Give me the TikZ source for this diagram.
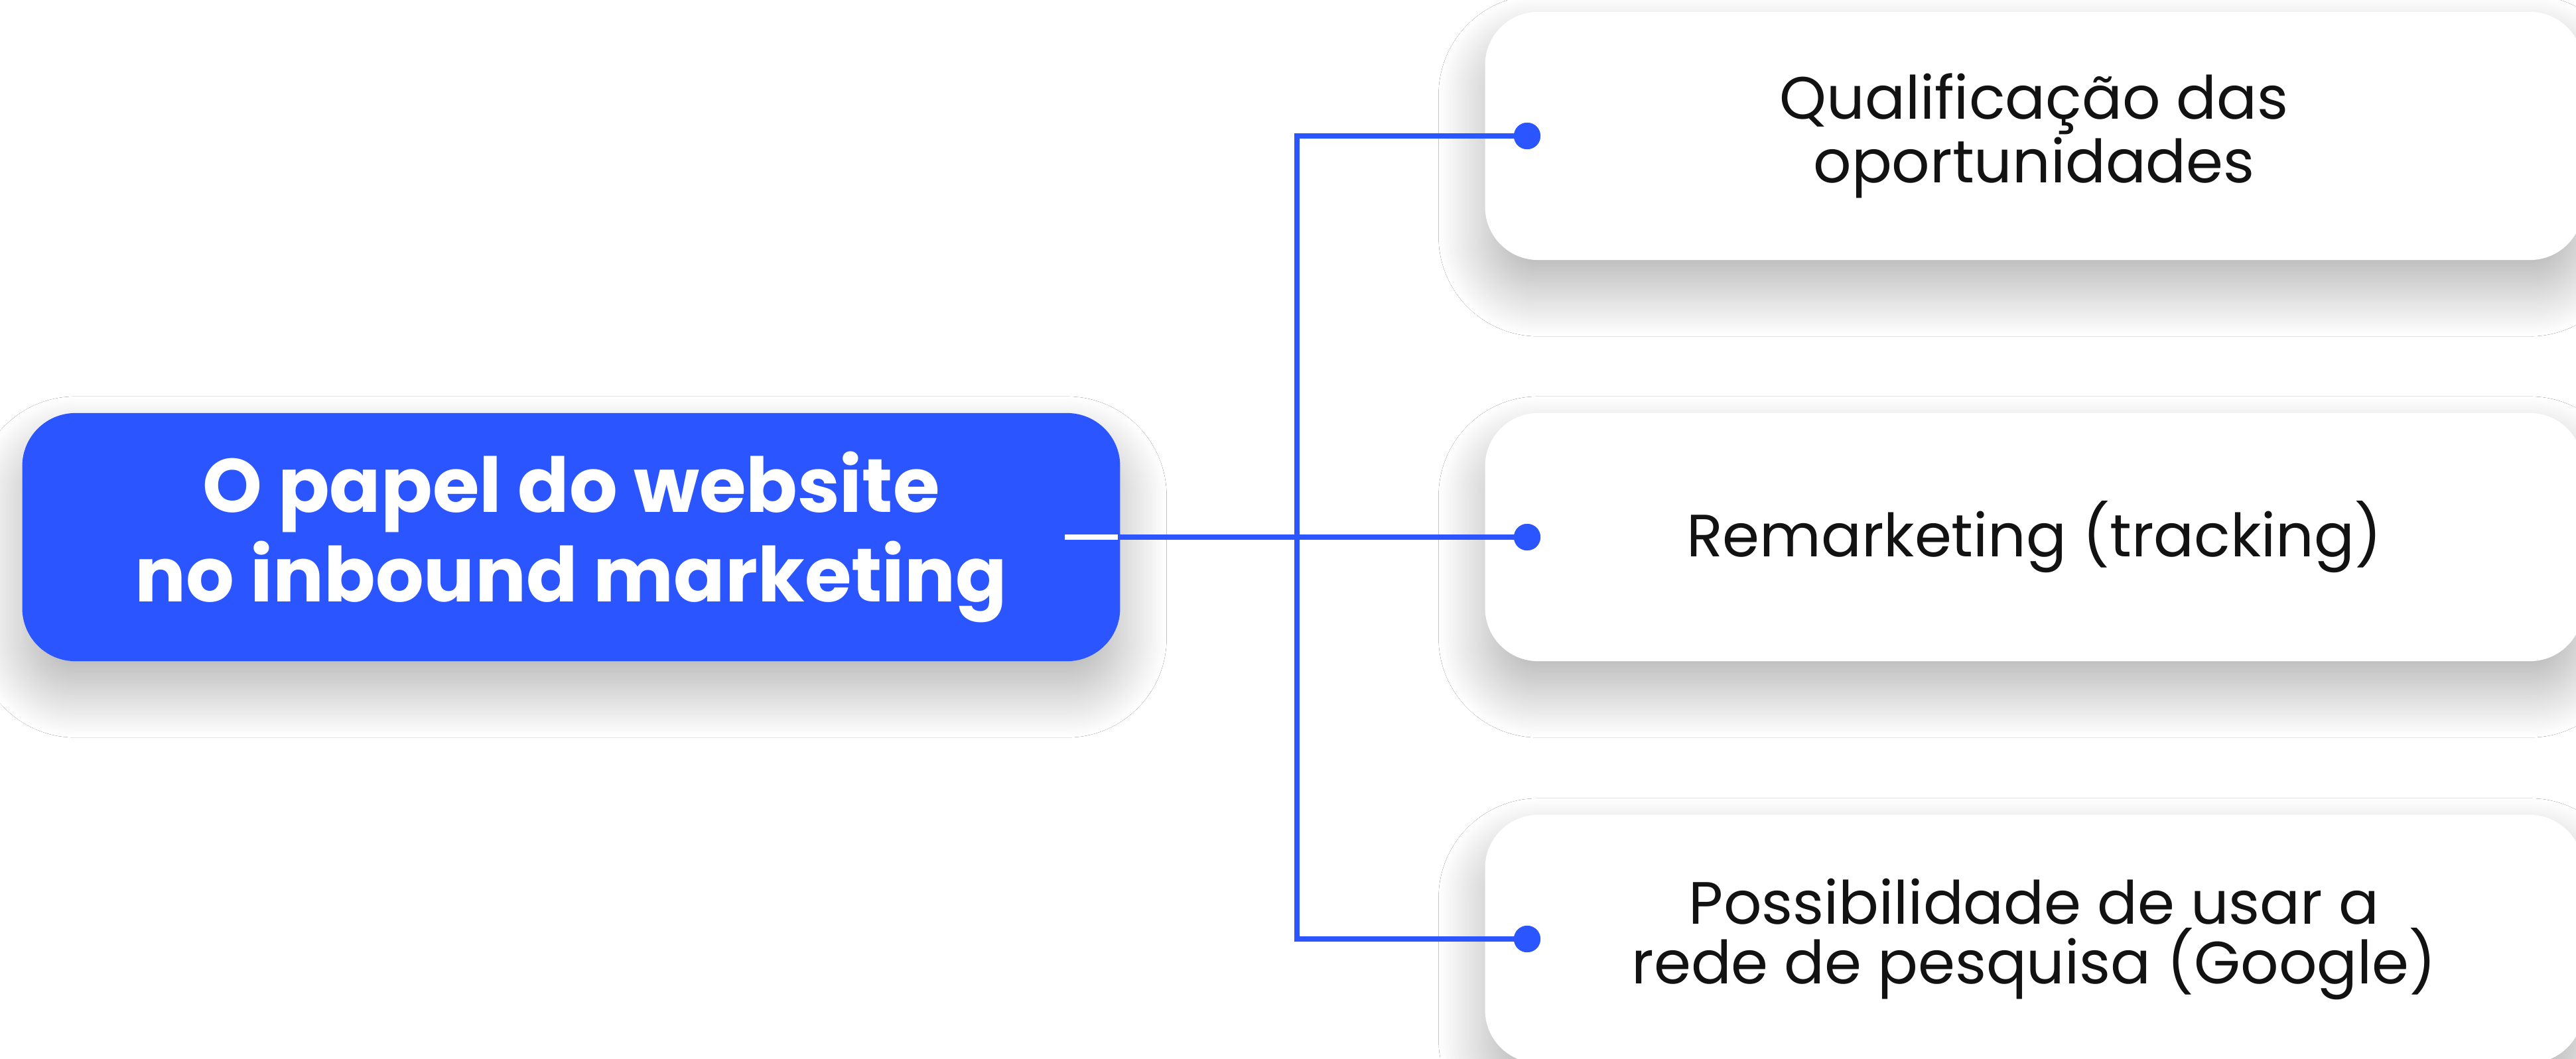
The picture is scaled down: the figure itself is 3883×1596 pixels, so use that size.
\documentclass[tikz,border=0pt]{standalone}
\usepackage{fontspec}
\setmainfont{Poppins}
\usetikzlibrary{shadows.blur}
\definecolor{brandblue}{HTML}{2B55FF}
\definecolor{inkblack}{HTML}{121212}
\tikzset{
  card/.style={rectangle, rounded corners=0.8cm, minimum width=16.54cm, minimum height=3.74cm,
    inner sep=0pt, align=center,
    blur shadow={shadow xshift=0cm, shadow yshift=-0.45cm, shadow blur radius=0.7cm,
      shadow blur steps=50, shadow opacity=30}},
  maincard/.style={card, fill=brandblue, text=white,
    font=\fontsize{32.5pt}{38.4pt}\selectfont\bfseries},
  itemcard/.style={card, fill=white, text=inkblack,
    font=\fontsize{25.6pt}{25.6pt}\selectfont},
  conn/.style={draw=brandblue, line width=0.08cm, line cap=rect, line join=miter},
  whiteconn/.style={draw=white, line width=0.08cm},
  dotnode/.style={circle, fill=brandblue, minimum size=0.4cm, inner sep=0pt}
}
\begin{document}
\begin{tikzpicture}[x=0.01cm,y=-0.01cm]
\fill[white] (0,0) rectangle (3883,1596);
\useasboundingbox (0,0) rectangle (3883,1596);
\node[maincard] (main) at (861,810) {O papel do website\\no inbound marketing};
\node[itemcard] (c1) at (3066,205) {Qualificação das\\oportunidades};
\node[itemcard] (c2) at (3066,810) {Remarketing (tracking)};
\node[itemcard] (c3) at (3066,1416) {Possibilidade de usar a\\rede de pesquisa (Google)};
\coordinate (trunk) at (1955,810);
\node[dotnode] (d1) at (2302,205) {};
\node[dotnode] (d2) at (2302,810) {};
\node[dotnode] (d3) at (2302,1416) {};
\draw[whiteconn] ([xshift=-0.84cm]main.east) -- (main.east);
\draw[conn] (main.east) -- (d2.center);
\draw[conn] (d1.center) -- (d1 -| trunk) -- (d3 -| trunk) -- (d3.center);
\node[dotnode] at (d1) {};
\node[dotnode] at (d2) {};
\node[dotnode] at (d3) {};
\end{tikzpicture}
\end{document}
